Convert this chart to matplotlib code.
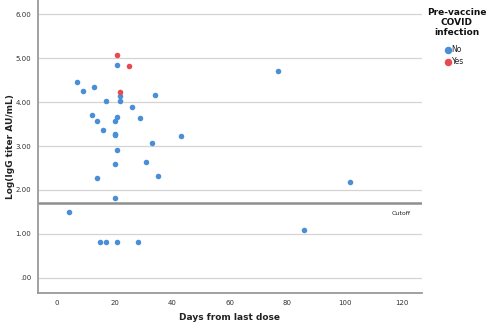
import matplotlib.pyplot as plt

# Days since last dose and log10 IgG titer, split by prior COVID infection
no_days = [21, 7, 9, 13, 22, 34, 17, 22, 26, 12, 21, 29, 14, 20, 16, 20, 20,
           43, 33, 21, 31, 20, 77, 14, 35, 20, 4, 15, 17, 21, 28, 102, 86]
no_titer = [4.84, 4.46, 4.26, 4.35, 4.14, 4.17, 4.02, 4.03, 3.89, 3.70, 3.65,
            3.64, 3.58, 3.56, 3.36, 3.28, 3.26, 3.23, 3.07, 2.90, 2.63, 2.58,
            4.70, 2.27, 2.32, 1.82, 1.49, 0.81, 0.81, 0.81, 0.81, 2.19, 1.08]
yes_days = [21, 25, 22]
yes_titer = [5.07, 4.82, 4.22]

cutoff = 1.70
x_ticks = [0, 20, 40, 60, 80, 100, 120]
y_ticks = [0, 1, 2, 3, 4, 5, 6]
y_tick_labels = ['.00', '1.00', '2.00', '3.00', '4.00', '5.00', '6.00']

blue = '#4a8fd6'
red = '#e84a4f'

fig = plt.figure(figsize=(4.88, 3.28), dpi=100)
ax = fig.add_axes([0.078, 0.107, 0.787, 0.893])

for y in y_ticks:
    ax.axhline(y, color='#d4d4d4', lw=0.9, zorder=1)
ax.axhline(cutoff, color='#8e8e8e', lw=1.8, zorder=2)
ax.text(116.5, cutoff - 0.24, 'Cutoff', fontsize=4.5, color='#222222',
        ha='left', va='center')

ax.scatter(no_days, no_titer, s=16, color=blue, lw=0, zorder=3, label='No')
ax.scatter(yes_days, yes_titer, s=16, color=red, lw=0, zorder=3, label='Yes')

ax.set_xlim(-6.6, 127)
ax.set_ylim(-0.34, 6.32)
ax.set_xticks(x_ticks)
ax.set_yticks(y_ticks)
ax.set_yticklabels(y_tick_labels)
ax.tick_params(length=0, labelsize=5, colors='#333333', pad=5)

for s in ['top', 'right']:
    ax.spines[s].set_visible(False)
for s in ['left', 'bottom']:
    ax.spines[s].set_color('#9a9a9a')
    ax.spines[s].set_linewidth(1.3)

fig.text(0.471, 0.018, 'Days from last dose', fontsize=6.5, fontweight='bold',
         color='#222222', ha='center', va='bottom')
fig.text(0.021, 0.553, 'Log(IgG titer AU/mL)', fontsize=6.5, fontweight='bold',
         color='#222222', ha='center', va='center', rotation=90)

# legend title and entries
fig.text(0.936, 0.975, 'Pre-vaccine\nCOVID\ninfection', fontsize=6.5,
         fontweight='bold', color='#111111', ha='center', va='top',
         multialignment='center', linespacing=1.15)
leg = fig.legend(loc='upper left', bbox_to_anchor=(0.903, 0.875),
                 frameon=False, fontsize=5.5, handletextpad=0.05,
                 handlelength=0.9, labelspacing=0.4, borderpad=0.0,
                 markerscale=1.35)
for t in leg.get_texts():
    t.set_color('#222222')

fig.savefig('out.png', dpi=100)
